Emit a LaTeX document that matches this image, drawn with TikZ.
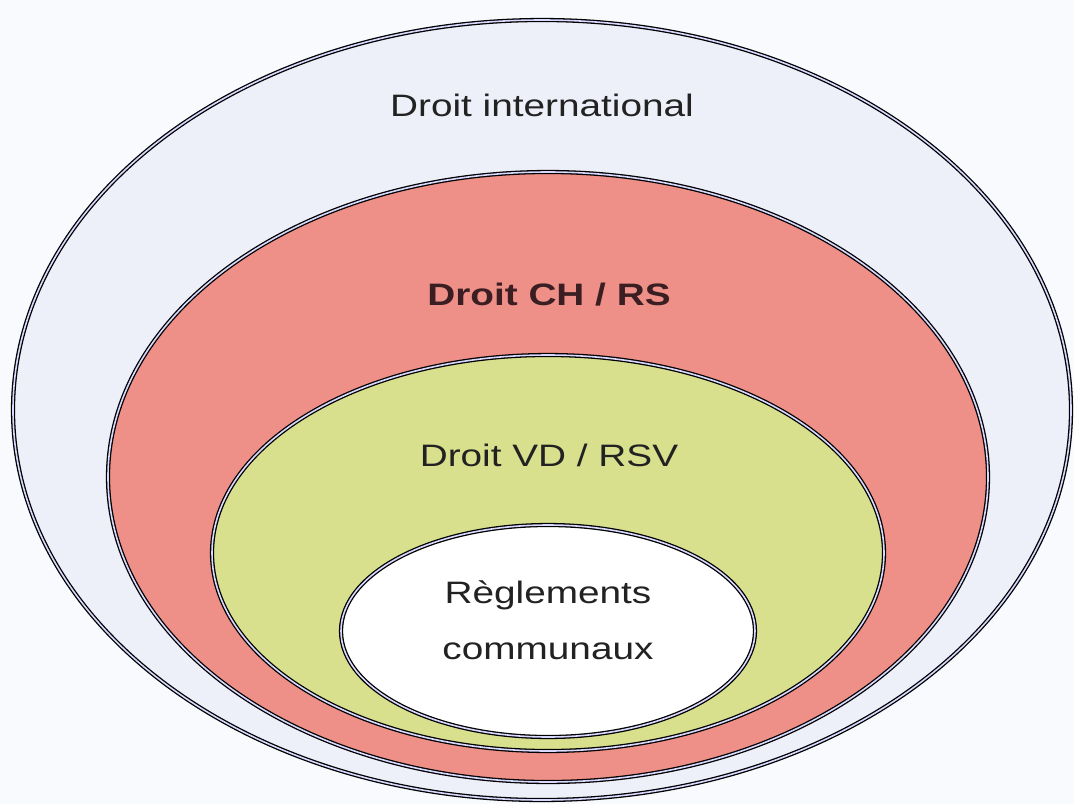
\documentclass[tikz,border=0pt]{standalone}
\usepackage{fontspec}
\setmainfont{Liberation Sans}[FakeStretch=1.25]
\definecolor{bgpaper}{HTML}{F8FAFD}
\definecolor{outerfill}{HTML}{EEF0F9}
\definecolor{redfill}{HTML}{EE9088}
\definecolor{greenfill}{HTML}{D8E08E}
\definecolor{innerfill}{HTML}{FFFFFF}
\definecolor{txt}{HTML}{222222}
\definecolor{txtred}{HTML}{3A1E22}
\tikzset{
  ring/.style={draw=black, line width=1.3pt, double=white!85!blue, double distance=1.6pt},
  lbl/.style={text=txt, font=\fontsize{31}{56}\selectfont, align=center, inner sep=0pt}
}
\begin{document}
\begin{tikzpicture}[x=1pt,y=-1pt]
\fill[bgpaper] (0,0) rectangle (1074,804);
\useasboundingbox (0,0) rectangle (1074,804);
\path[ring, fill=outerfill] (542,410) ellipse [x radius=529, y radius=390];
\path[ring, fill=redfill] (548,477) ellipse [x radius=440, y radius=305];
\path[ring, fill=greenfill] (548,553) ellipse [x radius=336, y radius=198];
\path[ring, fill=innerfill] (548,631) ellipse [x radius=207, y radius=106];
\node[lbl] (intl) at (542,105) {Droit international};
\node[lbl, text=txtred, font=\fontsize{31}{37}\selectfont\bfseries] (ch) at (549,295) {Droit CH / RS};
\node[lbl] (vd) at (549,455) {Droit VD / RSV};
\node[lbl] (com) at (548,620) {Règlements\\communaux};
\end{tikzpicture}
\end{document}
